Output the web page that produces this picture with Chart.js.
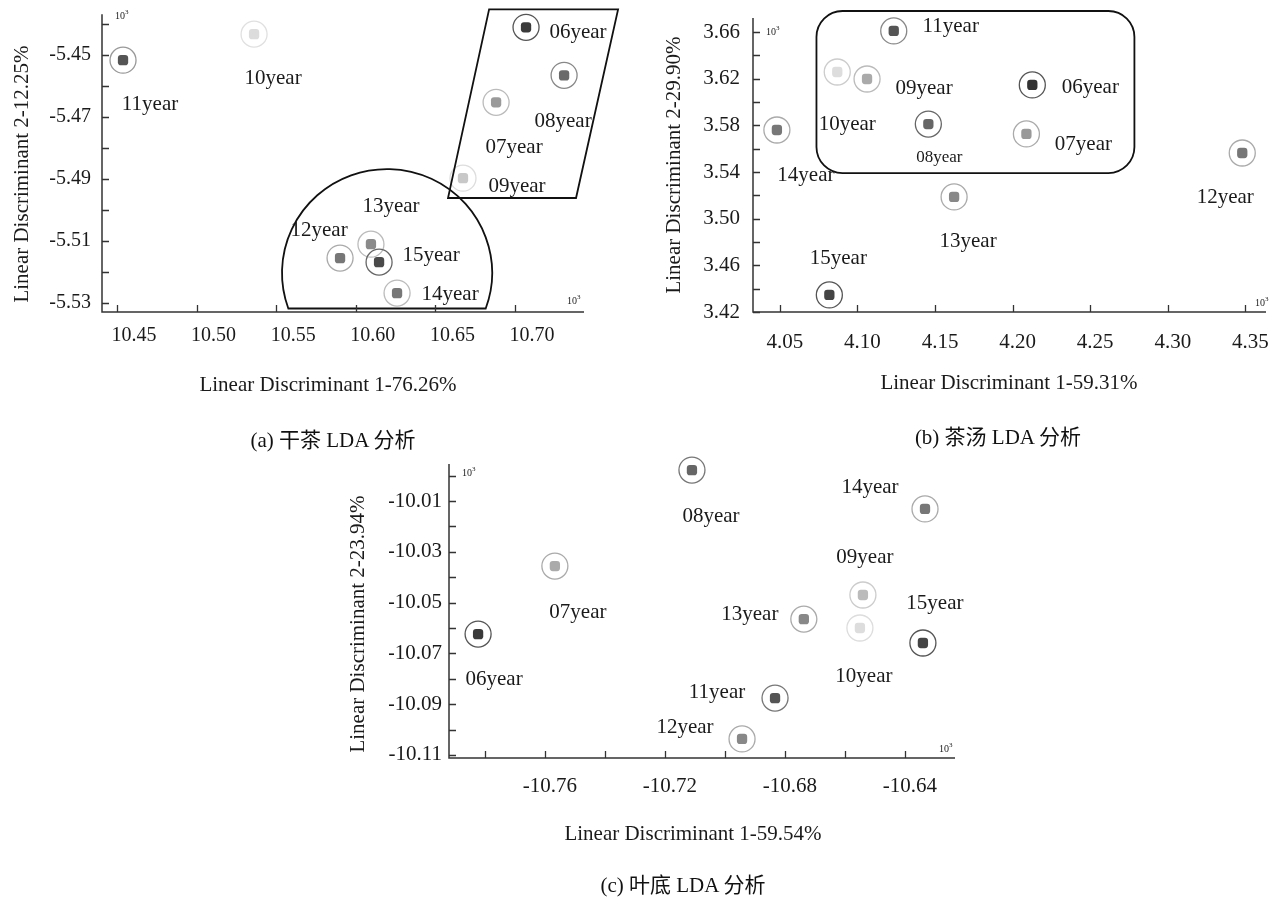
<!DOCTYPE html>
<html>
<head>
<meta charset="utf-8">
<script src="https://cdn.jsdelivr.net/npm/chart.js@4.4.0/dist/chart.umd.min.js"></script>
<style>
  html, body { margin: 0; padding: 0; background: #fff; }
  #wrap { position: relative; width: 1287px; height: 897px; overflow: hidden; background: #fff; }
  #wrap canvas { position: absolute; left: 0; top: 0; }
  .cap { position: absolute; transform: translate(-50%, -50%); white-space: nowrap;
         font-family: "Liberation Serif", "Noto Sans CJK SC", serif; font-size: 21px; color: #111; }
</style>
</head>
<body>
<div id="wrap">
  <canvas id="chartA" width="1287" height="897"></canvas>
  <canvas id="chartB" width="1287" height="897"></canvas>
  <canvas id="chartC" width="1287" height="897"></canvas>
  <div class="cap" style="left:333px;top:438px">(a) 干茶 LDA 分析</div>
  <div class="cap" style="left:998px;top:435px">(b) 茶汤 LDA 分析</div>
  <div class="cap" style="left:683px;top:883px">(c) 叶底 LDA 分析</div>
</div>
<script>
// Sample groups (storage years), shared by all three panels
const years = ['06year', '07year', '08year', '09year', '10year', '11year', '12year', '13year', '14year', '15year'];

// (a) dry tea
const ld1A = [10.7069, 10.6881, 10.7308, 10.6673, 10.5361, 10.4538, 10.5901, 10.6095, 10.6259, 10.6146];
const ld2A = [-5.4410, -5.4652, -5.4565, -5.4897, -5.4432, -5.4516, -5.5155, -5.5110, -5.5268, -5.5168];
const xTicksA = [10.45, 10.50, 10.55, 10.60, 10.65, 10.70];
const yTicksA = [-5.45, -5.47, -5.49, -5.51, -5.53];
const yMinorA = [-5.44, -5.46, -5.48, -5.50, -5.52];

// (b) tea infusion
const ld1B = [4.2127, 4.2089, 4.1457, 4.1062, 4.0870, 4.1234, 4.3480, 4.1623, 4.0481, 4.0819];
const ld2B = [3.6146, 3.5726, 3.5811, 3.6197, 3.6257, 3.6609, 3.5563, 3.5186, 3.5760, 3.4346];
const xTicksB = [4.05, 4.10, 4.15, 4.20, 4.25, 4.30, 4.35];
const yTicksB = [3.42, 3.46, 3.50, 3.54, 3.58, 3.62, 3.66];
const yMinorB = [3.44, 3.48, 3.52, 3.56, 3.60, 3.64];

// (c) infused leaves
const ld1C = [-10.7823, -10.7567, -10.7110, -10.6540, -10.6550, -10.6833, -10.6943, -10.6737, -10.6333, -10.6340];
const ld2C = [-10.0624, -10.0356, -9.9978, -10.0470, -10.0600, -10.0876, -10.1037, -10.0565, -10.0131, -10.0659];
const xTicksC = [-10.76, -10.72, -10.68, -10.64];
const xMinorC = [-10.78, -10.74, -10.70, -10.66];
const yTicksC = [-10.01, -10.03, -10.05, -10.07, -10.09, -10.11];
const yMinorC = [-10.00, -10.02, -10.04, -10.06, -10.08, -10.10];

// ---- styling (per year: blob fill, ring stroke) ----
const fillA = ['#3a3a3a', '#9a9a9a', '#6a6a6a', '#c8c8c8', '#dcdcdc', '#555555', '#777777', '#8a8a8a', '#777777', '#4a4a4a'];
const ringA = ['#555555', '#bbbbbb', '#888888', '#dddddd', '#e0e0e0', '#999999', '#aaaaaa', '#bbbbbb', '#bbbbbb', '#666666'];
const fillB = ['#333333', '#999999', '#666666', '#aaaaaa', '#dddddd', '#555555', '#777777', '#888888', '#777777', '#444444'];
const ringB = ['#555555', '#aaaaaa', '#666666', '#bbbbbb', '#cccccc', '#888888', '#aaaaaa', '#aaaaaa', '#aaaaaa', '#555555'];
const fillC = ['#3a3a3a', '#aaaaaa', '#666666', '#bbbbbb', '#dddddd', '#555555', '#888888', '#888888', '#777777', '#444444'];
const ringC = ['#555555', '#aaaaaa', '#777777', '#cccccc', '#dddddd', '#777777', '#aaaaaa', '#aaaaaa', '#aaaaaa', '#555555'];

// label placement relative to each marker, in pixels
const labelPosA = [[52, 5], [18, 45], [-1, 46], [54, 8], [19, 44], [27, 44], [-21, -28], [20, -38], [53, 1], [52, -7]];
const labelPosB = [[58, 3], [57, 11], [11, 33], [57, 9], [10, 52], [57, -4], [-17, 45], [14, 45], [29, 45], [9, -36]];
const labelPosC = [[16, 45], [23, 46], [19, 46], [2, -38], [4, 48], [-58, -6], [-57, -11], [-54, -5], [-55, -21], [12, -40]];
const labelSizeB = [21, 21, 17, 21, 21, 21, 21, 21, 21, 21];

const SERIF = '"Liberation Serif", "Times New Roman", serif';
const INK = '#1a1a1a';

function points(xs, ys) { return xs.map((x, i) => ({ x: x, y: ys[i] })); }

function drawTenCubed(ctx, x, y) {
  ctx.save();
  ctx.fillStyle = '#222';
  ctx.textBaseline = 'middle';
  ctx.textAlign = 'left';
  ctx.font = '10px ' + SERIF;
  ctx.fillText('10', x, y);
  const w = ctx.measureText('10').width;
  ctx.font = '7px ' + SERIF;
  ctx.fillText('3', x + w, y - 4);
  ctx.restore();
}

// per-canvas decoration settings (kept outside Chart options)
const decorations = {};

// axes with inward ticks, titles, point labels and group outlines
const decor = {
  id: 'decor',
  afterDatasetsDraw(chart) {
    const o = decorations[chart.canvas.id];
    if (!o) return;
    const ctx = chart.ctx;
    const xs = chart.scales.x, ys = chart.scales.y;
    const a = chart.chartArea;

    // group outlines
    if (o.outline) {
      ctx.save();
      ctx.strokeStyle = '#111';
      ctx.lineWidth = 1.8;
      o.outline(ctx, xs, ys);
      ctx.restore();
    }

    // axis lines
    ctx.save();
    ctx.strokeStyle = '#333';
    ctx.lineWidth = 1.5;
    ctx.beginPath();
    ctx.moveTo(a.left, a.top);
    ctx.lineTo(a.left, a.bottom);
    ctx.lineTo(a.right, a.bottom);
    ctx.stroke();

    // inward tick marks
    const tl = 7;
    ctx.lineWidth = 1.3;
    ctx.beginPath();
    o.xMarks.forEach(v => {
      const px = Math.round(xs.getPixelForValue(v)) + 0.5;
      ctx.moveTo(px, a.bottom); ctx.lineTo(px, a.bottom - tl);
    });
    o.yMarks.forEach(v => {
      const py = Math.round(ys.getPixelForValue(v)) + 0.5;
      ctx.moveTo(a.left, py); ctx.lineTo(a.left + tl, py);
    });
    ctx.stroke();
    ctx.restore();

    // exponent markers
    drawTenCubed(ctx, o.expY[0], o.expY[1]);
    drawTenCubed(ctx, o.expX[0], o.expX[1]);

    // axis titles
    ctx.save();
    ctx.fillStyle = INK;
    ctx.font = '21px ' + SERIF;
    ctx.textAlign = 'center';
    ctx.textBaseline = 'middle';
    ctx.fillText(o.xTitle, o.xTitlePos[0], o.xTitlePos[1]);
    ctx.translate(o.yTitlePos[0], o.yTitlePos[1]);
    ctx.rotate(-Math.PI / 2);
    ctx.fillText(o.yTitle, 0, 0);
    ctx.restore();

    // point labels
    ctx.save();
    ctx.fillStyle = INK;
    ctx.textAlign = 'center';
    ctx.textBaseline = 'middle';
    const meta = chart.getDatasetMeta(0);
    meta.data.forEach((el, i) => {
      ctx.font = (o.labelSize ? o.labelSize[i] : 21) + 'px ' + SERIF;
      ctx.fillText(years[i], el.x + o.labelPos[i][0], el.y + o.labelPos[i][1]);
    });
    ctx.restore();
  }
};

function makePanel(id, p) {
  decorations[id] = p.decor;
  const pts = points(p.xs, p.ys);
  const tickFont = { family: SERIF, size: p.tickSize };
  // invisible tick marks reserve the gap between the axis and its labels
  const gap = len => ({ display: true, drawOnChartArea: false, drawTicks: true, tickLength: len,
                        color: 'rgba(0,0,0,0)' });
  return new Chart(document.getElementById(id), {
    type: 'scatter',
    data: {
      datasets: [
        { data: pts, pointStyle: 'rectRounded', pointRadius: 6, backgroundColor: p.fill, borderWidth: 0, clip: false },
        { data: pts, pointStyle: 'circle', pointRadius: 13, backgroundColor: 'rgba(0,0,0,0)', borderColor: p.ring, borderWidth: 1.3, clip: false }
      ]
    },
    options: {
      responsive: false,
      animation: false,
      events: [],
      layout: { padding: p.pad },
      plugins: {
        legend: { display: false },
        tooltip: { enabled: false }
      },
      scales: {
        x: {
          type: 'linear', min: p.xMin, max: p.xMax,
          afterBuildTicks: s => { s.ticks = p.xTicks.map(v => ({ value: v })); },
          afterFit: s => { s.height = 40; },
          grid: gap(p.xPad),
          border: { display: false },
          ticks: { autoSkip: false, maxRotation: 0, padding: 0, labelOffset: p.xLabelShift,
                   font: tickFont, color: INK, callback: v => Number(v).toFixed(2) }
        },
        y: {
          type: 'linear', min: p.yMin, max: p.yMax,
          afterBuildTicks: s => { s.ticks = p.yTicks.map(v => ({ value: v })); },
          afterFit: s => { s.width = 60; },
          grid: gap(p.yPad),
          border: { display: false },
          ticks: { autoSkip: false, padding: 0, font: tickFont, color: INK,
                   callback: v => Number(v).toFixed(2) }
        }
      }
    },
    plugins: [decor]
  });
}

// (a) dry tea
makePanel('chartA', {
  xs: ld1A, ys: ld2A, fill: fillA, ring: ringA,
  xMin: 10.4406, xMax: 10.7433, yMin: -5.5329, yMax: -5.4368,
  xTicks: xTicksA, yTicks: yTicksA,
  pad: { left: 42, right: 703, top: 13, bottom: 545 },
  tickSize: 20, xPad: 12, yPad: 11, xLabelShift: 17,
  decor: {
    xMarks: xTicksA, yMarks: yTicksA.concat(yMinorA),
    expY: [115, 16], expX: [567, 301],
    xTitle: 'Linear Discriminant 1-76.26%', xTitlePos: [328, 385],
    yTitle: 'Linear Discriminant 2-12.25%', yTitlePos: [22, 174],
    labelPos: labelPosA,
    outline: (ctx, xs, ys) => {
      // parallelogram around 06-09 year
      const quad = [[10.6837, -5.4352], [10.7647, -5.4352], [10.7383, -5.4961], [10.6579, -5.4961]];
      ctx.beginPath();
      quad.forEach((q, i) => {
        const px = xs.getPixelForValue(q[0]), py = ys.getPixelForValue(q[1]);
        if (i === 0) ctx.moveTo(px, py); else ctx.lineTo(px, py);
      });
      ctx.closePath();
      ctx.stroke();
      // dome around 12-15 year
      const cx = xs.getPixelForValue(10.6196), cy = ys.getPixelForValue(-5.5203);
      const rx = xs.getPixelForValue(10.6196 + 0.06596) - cx;
      const ry = ys.getPixelForValue(-5.5203 - 0.03355) - cy;
      const a0 = 160 * Math.PI / 180, a1 = 380 * Math.PI / 180;
      ctx.beginPath();
      ctx.ellipse(cx, cy, rx, ry, 0, a0, a1, false);
      ctx.closePath();
      ctx.stroke();
    }
  }
});

// (b) tea infusion
makePanel('chartB', {
  xs: ld1B, ys: ld2B, fill: fillB, ring: ringB,
  xMin: 4.0327, xMax: 4.3633, yMin: 3.42, yMax: 3.672,
  xTicks: xTicksB, yTicks: yTicksB,
  pad: { left: 693, right: 21, top: 18, bottom: 545 },
  tickSize: 21, xPad: 18, yPad: 13, xLabelShift: 5,
  decor: {
    xMarks: xTicksB, yMarks: yTicksB.concat(yMinorB),
    expY: [766, 32], expX: [1255, 303],
    xTitle: 'Linear Discriminant 1-59.31%', xTitlePos: [1009, 383],
    yTitle: 'Linear Discriminant 2-29.90%', yTitlePos: [674, 165],
    labelPos: labelPosB, labelSize: labelSizeB,
    outline: (ctx, xs, ys) => {
      // rounded box around 06-11 year
      const l = xs.getPixelForValue(4.0736), r = xs.getPixelForValue(4.2785);
      const t = ys.getPixelForValue(3.678), b = ys.getPixelForValue(3.5391);
      ctx.beginPath();
      ctx.roundRect(l, t, r - l, b - t, 26);
      ctx.stroke();
    }
  }
});

// (c) infused leaves
makePanel('chartC', {
  xs: ld1C, ys: ld2C, fill: fillC, ring: ringC,
  xMin: -10.792, xMax: -10.6233, yMin: -10.1112, yMax: -9.9954,
  xTicks: xTicksC, yTicks: yTicksC,
  pad: { left: 389, right: 332, top: 464, bottom: 99 },
  tickSize: 21, xPad: 16, yPad: 7, xLabelShift: 5,
  decor: {
    xMarks: xTicksC.concat(xMinorC), yMarks: yTicksC.concat(yMinorC),
    expY: [462, 473], expX: [939, 749],
    xTitle: 'Linear Discriminant 1-59.54%', xTitlePos: [693, 834],
    yTitle: 'Linear Discriminant 2-23.94%', yTitlePos: [358, 624],
    labelPos: labelPosC
  }
});
</script>
</body>
</html>
